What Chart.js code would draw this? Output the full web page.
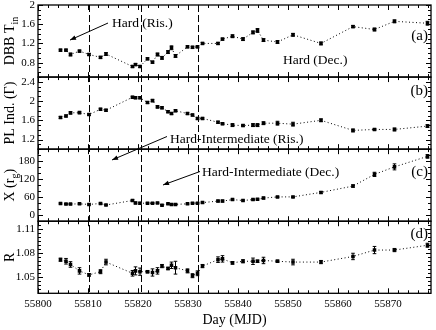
<!DOCTYPE html>
<html><head><meta charset="utf-8">
<script src="https://cdn.jsdelivr.net/npm/chart.js@4"></script>
<style>html,body{margin:0;padding:0;background:#fff;} canvas{display:block;}</style>
</head><body>
<canvas id="c" width="436" height="330"></canvas>
<script>
// ---- data ----
const DAYS = [55804.5, 55805.6, 55806.5, 55808.3, 55810.2, 55812.5, 55813.6, 55818.9, 55819.5, 55820.4,
              55821.9, 55822.9, 55823.9, 55824.8, 55826.0, 55826.7, 55827.5, 55829.9, 55830.9, 55831.9,
              55832.9, 55836.0, 55836.9, 55838.9, 55841.0, 55843.0, 55843.9, 55845.1, 55847.9, 55851.0,
              55856.6, 55863.0, 55867.3, 55871.3, 55877.9];
const DBB_TIN = [1.06, 1.06, 0.97, 1.04, 0.97, 0.91, 0.98, 0.72, 0.76, 0.72,
                 0.88, 0.81, 0.97, 0.90, 1.02, 1.11, 0.94, 1.13, 1.12, 1.13,
                 1.20, 1.20, 1.29, 1.35, 1.29, 1.43, 1.47, 1.27, 1.23, 1.38,
                 1.20, 1.55, 1.49, 1.66, 1.62];
const DBB_TIN_ERR = [0.02, 0.02, 0.03, 0.02, 0.02, 0.02, 0.03, 0.02, 0.02, 0.02,
                     0.02, 0.02, 0.03, 0.03, 0.03, 0.04, 0.03, 0.02, 0.02, 0.02,
                     0.02, 0.02, 0.02, 0.03, 0.03, 0.03, 0.04, 0.03, 0.03, 0.03,
                     0.03, 0.02, 0.03, 0.03, 0.04];
const PL_INDEX = [1.66, 1.69, 1.755, 1.76, 1.72, 1.83, 1.81, 2.08, 2.07, 2.07,
                  1.97, 2.01, 1.88, 1.86, 1.78, 1.74, 1.80, 1.74, 1.71, 1.64,
                  1.64, 1.56, 1.53, 1.50, 1.49, 1.50, 1.50, 1.54, 1.54, 1.52,
                  1.60, 1.39, 1.41, 1.41, 1.48];
const PL_INDEX_ERR = [0.02, 0.02, 0.02, 0.02, 0.02, 0.02, 0.02, 0.02, 0.02, 0.02,
                      0.02, 0.02, 0.02, 0.02, 0.02, 0.02, 0.02, 0.02, 0.02, 0.02,
                      0.02, 0.02, 0.02, 0.03, 0.02, 0.03, 0.03, 0.03, 0.04, 0.04,
                      0.03, 0.03, 0.02, 0.03, 0.03];
const X_RG = [39, 37, 37, 38, 36, 39, 34, 49, 41, 40,
              40, 40, 41, 33, 38, 36, 36, 38, 40, 40,
              42, 47, 47, 52, 49, 52, 53, 57, 61, 61,
              76, 97, 136, 161, 196];
const X_RG_ERR = [2, 2, 2, 2, 2, 2, 2, 3, 3, 3,
                  2, 2, 2, 2, 2, 2, 2, 2, 2, 2,
                  2, 3, 3, 2, 2, 2, 2, 3, 2, 2,
                  3, 4, 7, 10, 6];
const R_VAL = [1.072, 1.070, 1.066, 1.058, 1.053, 1.057, 1.069, 1.055, 1.058, 1.057,
               1.057, 1.056, 1.058, 1.064, 1.061, 1.065, 1.062, 1.058, 1.052, 1.055,
               1.064, 1.072, 1.073, 1.068, 1.070, 1.070, 1.070, 1.071, 1.070, 1.069,
               1.069, 1.076, 1.084, 1.084, 1.090];
const R_ERR = [0.002, 0.0035, 0.0035, 0.004, 0.0015, 0.0025, 0.0035, 0.0035, 0.005, 0.0045,
               0.0015, 0.0045, 0.004, 0.002, 0.0015, 0.004, 0.008, 0.0025, 0.0025, 0.003,
               0.002, 0.0035, 0.004, 0.0015, 0.002, 0.004, 0.0015, 0.004, 0.0015, 0.0035,
               0.002, 0.004, 0.0045, 0.002, 0.0025];
const STATE_DAYS = [55810.2, 55820.5, 55832.0];
const X_TICKS = [55800, 55810, 55820, 55830, 55840, 55850, 55860, 55870];
const TICKS_A = [0.8, 1.2, 1.6, 2];
const TICKS_B = [1.2, 1.6, 2, 2.4];
const TICKS_C = [0, 60, 120, 180];
const TICKS_D = [1.05, 1.08, 1.11];

// ---- configuration ----
const FONT = "'Liberation Serif', 'Times New Roman', serif";
const PANELS = [
  {id: 'ya', vals: DBB_TIN, errs: DBB_TIN_ERR, min: 0.5, max: 2.0, ticks: TICKS_A, minor: 0.1,
   title: [['DBB T', 0], ['in', 1]], letter: '(a)', letterY: 1.36},
  {id: 'yb', vals: PL_INDEX, errs: PL_INDEX_ERR, min: 1.0, max: 2.5, ticks: TICKS_B, minor: 0.1,
   title: [['PL Ind. (\u0393)', 0]], letter: '(b)', letterY: 2.21},
  {id: 'yc', vals: X_RG, errs: X_RG_ERR, min: -20, max: 220, ticks: TICKS_C, minor: 20,
   title: [['X (r', 0], ['g', 1], [')', 0]], letter: '(c)', letterY: 144},
  {id: 'yd', vals: R_VAL, errs: R_ERR, min: 1.03, max: 1.12, ticks: TICKS_D, minor: 0.005,
   title: [['R', 0]], letter: '(d)', letterY: 1.104}
];
const NOTES = [
  {text: 'Hard (Ris.)', axis: 'ya', x: 55814.8, y: 1.625, arrow: [55814.0, 1.625, 55806.4, 1.27]},
  {text: 'Hard (Dec.)', axis: 'ya', x: 55849.0, y: 0.855},
  {text: 'Hard-Intermediate (Ris.)', axis: 'yb', x: 55826.4, y: 1.211, arrow: [55825.8, 1.263, 55814.8, 0.775]},
  {text: 'Hard-Intermediate (Dec.)', axis: 'yc', x: 55832.8, y: 143.9, arrow: [55832.4, 145.6, 55825.0, 100.6]}
];

const scales = {
  x: {
    type: 'linear', position: 'bottom', min: 55800, max: 55878.6,
    grid: {display: false, drawTicks: false}, border: {display: false},
    ticks: {font: {family: FONT, size: 11}, color: '#000', padding: 4, maxRotation: 0, autoSkip: false,
            callback: v => String(v)},
    afterBuildTicks: s => { s.ticks = X_TICKS.map(v => ({value: v})); },
    title: {display: true, text: 'Day (MJD)', font: {family: FONT, size: 14}, color: '#000',
            padding: {top: 0, bottom: 1}},
    afterFit: s => { s.height = 36.7; s.paddingLeft = 0; s.paddingRight = 0; }
  }
};
PANELS.forEach((p, i) => {
  scales[p.id] = {
    type: 'linear', position: 'left', stack: 'panels', stackWeight: 1, weight: 4 - i,
    min: p.min, max: p.max,
    grid: {display: false, drawTicks: false}, border: {display: false},
    ticks: {font: {family: FONT, size: 11}, color: '#000', padding: 3, autoSkip: false,
            callback: v => String(v)},
    afterBuildTicks: s => { s.ticks = p.ticks.map(v => ({value: v})); },
    afterFit: s => { s.width = 38; s.paddingTop = 0; s.paddingBottom = 0; }
  };
});

function drawArrow(ctx, x0, y0, x1, y1) {
  ctx.beginPath(); ctx.moveTo(x0, y0); ctx.lineTo(x1, y1); ctx.stroke();
  const a = Math.atan2(y1 - y0, x1 - x0), L = 6, W = 2.3;
  ctx.beginPath();
  ctx.moveTo(x1, y1);
  ctx.lineTo(x1 - L * Math.cos(a) + W * Math.sin(a), y1 - L * Math.sin(a) - W * Math.cos(a));
  ctx.lineTo(x1 - L * Math.cos(a) - W * Math.sin(a), y1 - L * Math.sin(a) + W * Math.cos(a));
  ctx.closePath(); ctx.fill();
}

const panelPlugin = {
  id: 'panels',
  afterDatasetsDraw(chart) {
    const ctx = chart.ctx, xs = chart.scales.x;
    const {left, right, top, bottom} = chart.chartArea;
    ctx.save();
    ctx.strokeStyle = '#000'; ctx.fillStyle = '#000';
    // error bars
    ctx.lineWidth = 1;
    PANELS.forEach(p => {
      const ys = chart.scales[p.id];
      ctx.beginPath();
      DAYS.forEach((d, i) => {
        const px = xs.getPixelForValue(d);
        const y1 = ys.getPixelForValue(p.vals[i] - p.errs[i]);
        const y2 = ys.getPixelForValue(p.vals[i] + p.errs[i]);
        ctx.moveTo(px, y1); ctx.lineTo(px, y2);
        ctx.moveTo(px - 1.8, y1); ctx.lineTo(px + 1.8, y1);
        ctx.moveTo(px - 1.8, y2); ctx.lineTo(px + 1.8, y2);
      });
      ctx.stroke();
    });
    // state boundaries
    ctx.setLineDash([7, 3]);
    ctx.beginPath();
    STATE_DAYS.forEach(d => {
      const px = Math.round(xs.getPixelForValue(d)) + 0.5;
      ctx.moveTo(px, top); ctx.lineTo(px, bottom);
    });
    ctx.stroke();
    ctx.setLineDash([]);
    // frames and ticks
    PANELS.forEach(p => {
      const ys = chart.scales[p.id];
      const t = ys.top, b = ys.bottom;
      ctx.lineWidth = 1;
      ctx.beginPath();
      for (let d = 55800; d <= xs.max + 1e-6; d += 2) {
        const px = Math.round(xs.getPixelForValue(d)) + 0.5;
        const len = d % 10 === 0 ? 5 : 3;
        ctx.moveTo(px, t); ctx.lineTo(px, t + len);
        ctx.moveTo(px, b); ctx.lineTo(px, b - len);
      }
      const n = Math.round((p.max - p.min) / p.minor);
      for (let k = 0; k <= n; k++) {
        const v = p.min + k * p.minor;
        const major = p.ticks.some(tv => Math.abs(tv - v) < p.minor * 1e-3);
        const len = major ? 5 : 3;
        const py = Math.round(ys.getPixelForValue(v)) + 0.5;
        ctx.moveTo(left, py); ctx.lineTo(left + len, py);
        ctx.moveTo(right, py); ctx.lineTo(right - len, py);
      }
      ctx.stroke();
      ctx.lineWidth = 1.3;
      ctx.strokeRect(left, t, right - left, b - t);
      // panel letter
      ctx.font = '15px ' + FONT;
      ctx.textAlign = 'right'; ctx.textBaseline = 'middle';
      ctx.fillText(p.letter, right - 3, ys.getPixelForValue(p.letterY));
      // rotated axis title with subscripts
      const mainF = '14px ' + FONT, subF = '10px ' + FONT;
      let total = 0;
      p.title.forEach(([txt, sub]) => { ctx.font = sub ? subF : mainF; total += ctx.measureText(txt).width; });
      ctx.save();
      ctx.translate(14, (t + b) / 2);
      ctx.rotate(-Math.PI / 2);
      ctx.textAlign = 'left'; ctx.textBaseline = 'alphabetic';
      let cx = -total / 2;
      p.title.forEach(([txt, sub]) => {
        ctx.font = sub ? subF : mainF;
        ctx.fillText(txt, cx, sub ? 3.5 : 0);
        cx += ctx.measureText(txt).width;
      });
      ctx.restore();
    });
    // annotations
    ctx.lineWidth = 1;
    ctx.font = '13.5px ' + FONT;
    ctx.textAlign = 'left'; ctx.textBaseline = 'middle';
    NOTES.forEach(nt => {
      const ys = chart.scales[nt.axis];
      ctx.fillText(nt.text, xs.getPixelForValue(nt.x), ys.getPixelForValue(nt.y));
      if (nt.arrow) {
        const [a0, b0, a1, b1] = nt.arrow;
        drawArrow(ctx, xs.getPixelForValue(a0), ys.getPixelForValue(b0),
                  xs.getPixelForValue(a1), ys.getPixelForValue(b1));
      }
    });
    ctx.restore();
  }
};

new Chart(document.getElementById('c'), {
  type: 'line',
  data: {
    datasets: PANELS.map(p => ({
      label: p.id,
      data: DAYS.map((d, i) => ({x: d, y: p.vals[i]})),
      yAxisID: p.id, xAxisID: 'x',
      borderColor: '#000', borderWidth: 1, borderDash: [1, 2.5],
      pointStyle: 'rect', pointRadius: 2.5, pointBackgroundColor: '#000', pointBorderColor: '#000',
      pointBorderWidth: 0, tension: 0, fill: false
    }))
  },
  options: {
    responsive: false, animation: false, devicePixelRatio: 1,
    layout: {padding: {left: 0, right: 5, top: 5, bottom: 0}},
    plugins: {legend: {display: false}, tooltip: {enabled: false}},
    scales
  },
  plugins: [panelPlugin]
});
</script>
</body></html>
